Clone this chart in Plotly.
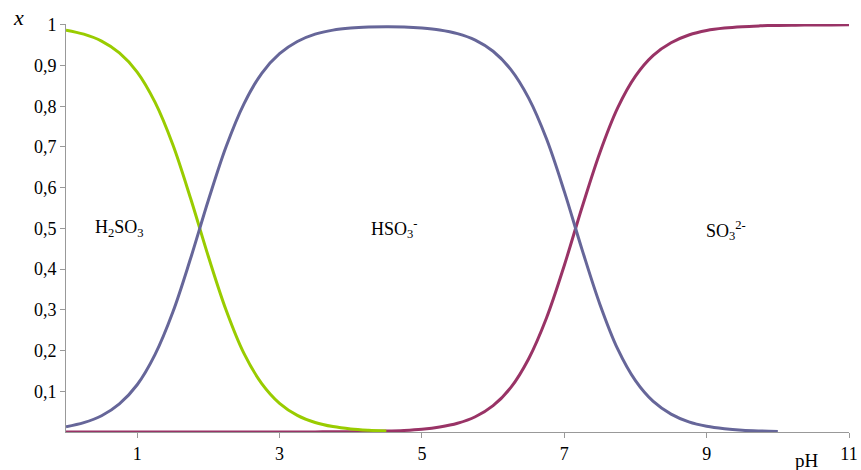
import plotly.graph_objects as go

# pH grid (x values)
ph = [0, 0.25, 0.5, 0.75, 1.0, 1.25, 1.5, 1.75, 2.0, 2.25, 2.5, 2.75, 3.0, 3.25, 3.5,
      3.75, 4.0, 4.25, 4.5, 4.75, 5.0, 5.25, 5.5, 5.75, 6.0, 6.25, 6.5, 6.75, 7.0,
      7.25, 7.5, 7.75, 8.0, 8.25, 8.5, 8.75, 9.0, 9.25, 9.5, 9.75, 10.0, 10.25,
      10.5, 10.75, 11.0]

# H2SO3 fraction (shown for pH 0 .. 4.5)
h2so3 = [0.987, 0.977, 0.960, 0.931, 0.884, 0.810, 0.706, 0.574, 0.431, 0.299,
         0.193, 0.119, 0.0705, 0.0409, 0.0234, 0.0133, 0.0075, 0.0043, 0.0024]

# HSO3- fraction (shown for pH 0 .. 10)
hso3 = [0.013, 0.023, 0.040, 0.069, 0.116, 0.190, 0.294, 0.426, 0.569, 0.701,
        0.806, 0.881, 0.929, 0.959, 0.977, 0.987, 0.992, 0.9945, 0.9954, 0.9948,
        0.9923, 0.9875, 0.9785, 0.9625, 0.935, 0.890, 0.820, 0.720, 0.591,
        0.448, 0.314, 0.204, 0.126, 0.075, 0.044, 0.025, 0.0142, 0.0081,
        0.0045, 0.0026, 0.0014]

# SO3 2- fraction (pH 0 .. 11)
so3 = [0, 0, 0, 0, 0, 0, 0, 0, 0, 0, 0, 0, 0.0001, 0.0002, 0.0003, 0.0004, 0.0007,
       0.0012, 0.0022, 0.0039, 0.0069, 0.0123, 0.0214, 0.0374, 0.0647, 0.1095,
       0.180, 0.280, 0.409, 0.552, 0.686, 0.796, 0.874, 0.925, 0.956, 0.975,
       0.986, 0.992, 0.9955, 0.9974, 0.9986, 0.9992, 0.9996, 0.9998, 0.9999]

x_ticks = [1, 3, 5, 7, 9, 11]
y_ticks = [0.1, 0.2, 0.3, 0.4, 0.5, 0.6, 0.7, 0.8, 0.9, 1.0]
y_tick_text = ["0,1", "0,2", "0,3", "0,4", "0,5", "0,6", "0,7", "0,8", "0,9", "1"]

species_labels = ["H<sub>2</sub>SO<sub>3</sub>", "HSO<sub>3</sub><sup>-</sup>",
                  "SO<sub>3</sub><sup>2-</sup>"]
label_ph = [0.75, 4.62, 9.27]
label_val = [0.5, 0.5, 0.495]

SERIF = "Liberation Serif"

fig = go.Figure()
fig.add_trace(go.Scatter(x=ph[:len(so3)], y=so3, mode="lines",
                         line=dict(color="#993366", width=3, shape="spline"),
                         showlegend=False))
fig.add_trace(go.Scatter(x=ph[:len(h2so3)], y=h2so3, mode="lines",
                         line=dict(color="#99CC00", width=3, shape="spline"),
                         showlegend=False))
fig.add_trace(go.Scatter(x=ph[:len(hso3)], y=hso3, mode="lines",
                         line=dict(color="#666699", width=3, shape="spline"),
                         showlegend=False))

for t, xv, yv in zip(species_labels, label_ph, label_val):
    fig.add_annotation(x=xv, y=yv, text=t, showarrow=False,
                       font=dict(family=SERIF, size=18, color="black"))

fig.add_annotation(xref="paper", yref="paper", x=-0.061, y=1.017, text="<i>x</i>",
                   showarrow=False, xanchor="center", yanchor="middle",
                   font=dict(family=SERIF, size=22, color="black"))
fig.add_annotation(xref="paper", yref="paper", x=0.946, y=-0.069, text="pH",
                   showarrow=False, xanchor="center", yanchor="middle",
                   font=dict(family=SERIF, size=19, color="black"))

fig.update_layout(
    width=861, height=470,
    margin=dict(l=66, r=12, t=24, b=38, autoexpand=False),
    paper_bgcolor="white", plot_bgcolor="white",
    xaxis=dict(range=[0, 11], tickvals=x_ticks, ticktext=[str(v) for v in x_ticks],
               showgrid=False, zeroline=False, showline=True, linecolor="#999999",
               linewidth=1, ticks="outside", ticklen=5, tickcolor="#999999",
               automargin=False,
               tickfont=dict(family=SERIF, size=18, color="black")),
    yaxis=dict(range=[0, 1.002], tickvals=y_ticks, ticktext=y_tick_text,
               showgrid=False, zeroline=False, showline=True, linecolor="#999999",
               linewidth=1, ticks="outside", ticklen=5, tickcolor="#999999",
               automargin=False,
               tickfont=dict(family=SERIF, size=18, color="black")),
)

fig.write_html("out.html")
